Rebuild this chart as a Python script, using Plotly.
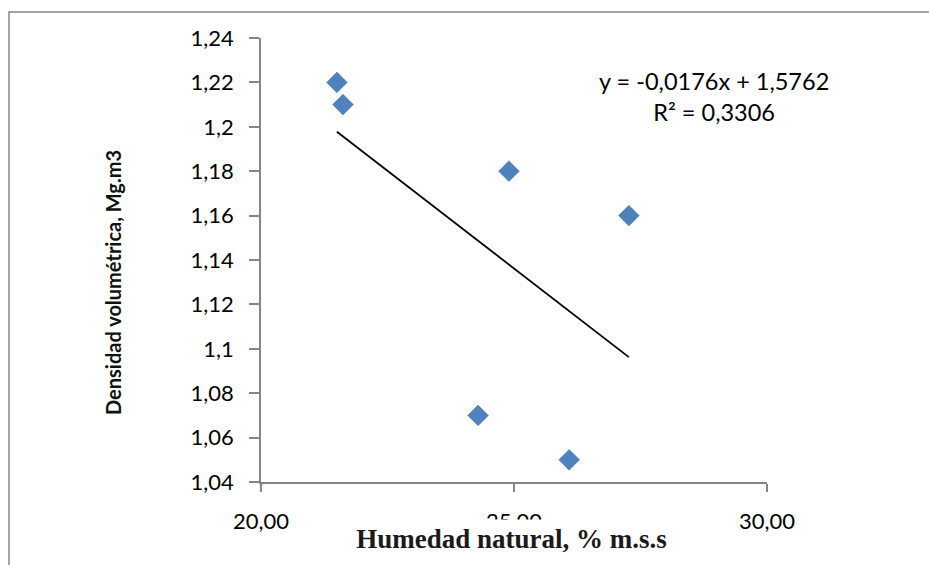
import plotly.graph_objects as go

# Data
humedad = [21.50, 21.62, 24.90, 27.27, 24.29, 26.09]
densidad = [1.22, 1.21, 1.18, 1.16, 1.07, 1.05]

# Trendline coefficients as shown on the chart
slope = -0.0176
intercept = 1.5762
r2 = 0.3306

x_ticks = [20, 25, 30]
x_ticktext = ["20,00", "25,00", "30,00"]
y_ticks = [1.04, 1.06, 1.08, 1.10, 1.12, 1.14, 1.16, 1.18, 1.20, 1.22, 1.24]
y_ticktext = ["1,04", "1,06", "1,08", "1,1", "1,12", "1,14", "1,16", "1,18", "1,2", "1,22", "1,24"]

x_min, x_max = min(humedad), max(humedad)
trend_x = [x_min, x_max]
trend_y = [slope * v + intercept for v in trend_x]

TICK_FONT = dict(family="Lato, 'Open Sans', sans-serif", size=22, color="#000000")
EQ_FONT = dict(family="Lato, 'Open Sans', sans-serif", size=23.5, color="#000000")
AXIS_COLOR = "#868686"


def px_x(p):
    return (p - 261) / 506


def px_y(p):
    return (482 - p) / 444


fig = go.Figure()
fig.add_trace(go.Scatter(
    x=trend_x, y=trend_y, mode="lines",
    line=dict(color="#000000", width=1.8),
    showlegend=False, hoverinfo="skip",
))
fig.add_trace(go.Scatter(
    x=humedad, y=densidad, mode="markers",
    marker=dict(symbol="diamond", size=16, color="#4F81BD",
                line=dict(color="#4A7BB5", width=0.5)),
    showlegend=False,
))

fig.update_layout(
    width=929, height=565,
    margin=dict(l=261, r=162, t=38, b=83),
    paper_bgcolor="white", plot_bgcolor="white",
    xaxis=dict(
        range=[20, 30], tickvals=x_ticks, ticktext=x_ticktext,
        showgrid=False, zeroline=False,
        showline=True, linecolor=AXIS_COLOR, linewidth=1.5,
        ticks="outside", ticklen=8, tickcolor=AXIS_COLOR, tickwidth=1.5,
        tickfont=TICK_FONT, ticklabelstandoff=11,
    ),
    yaxis=dict(
        range=[1.04, 1.24], tickvals=y_ticks, ticktext=y_ticktext,
        showgrid=False, zeroline=False,
        showline=True, linecolor=AXIS_COLOR, linewidth=1.5,
        ticks="outside", ticklen=10, tickcolor=AXIS_COLOR, tickwidth=1.5,
        tickfont=TICK_FONT, ticklabelstandoff=11,
    ),
    shapes=[dict(
        type="rect", xref="paper", yref="paper",
        x0=px_x(9), x1=1.5, y0=-0.5, y1=px_y(12),
        line=dict(color=AXIS_COLOR, width=1.5), fillcolor="rgba(0,0,0,0)",
        layer="below",
    )],
    annotations=[
        dict(
            text=f"y = {str(slope).replace('.', ',')}x + {str(intercept).replace('.', ',')}<br>R² = {str(r2).replace('.', ',')}",
            xref="paper", yref="paper", x=px_x(714), y=px_y(97),
            xanchor="center", yanchor="middle",
            showarrow=False, align="center", font=EQ_FONT,
        ),
        dict(
            text="<b>Densidad volumétrica, Mg.m3</b>",
            xref="paper", yref="paper", x=px_x(113), y=px_y(283),
            xanchor="center", yanchor="middle",
            textangle=-90, showarrow=False,
            font=dict(family="Lato, sans-serif", size=20, color="#111111"),
        ),
        dict(
            text="<b>Humedad natural, % m.s.s</b>",
            xref="paper", yref="paper", x=px_x(511), y=px_y(519),
            xanchor="center", yanchor="top", showarrow=False,
            width=387, height=36, bgcolor="white",
            font=dict(family="'Liberation Serif', 'Times New Roman', serif", size=27, color="#1a1a1a"),
        ),
    ],
)

fig.write_html("out.html")
